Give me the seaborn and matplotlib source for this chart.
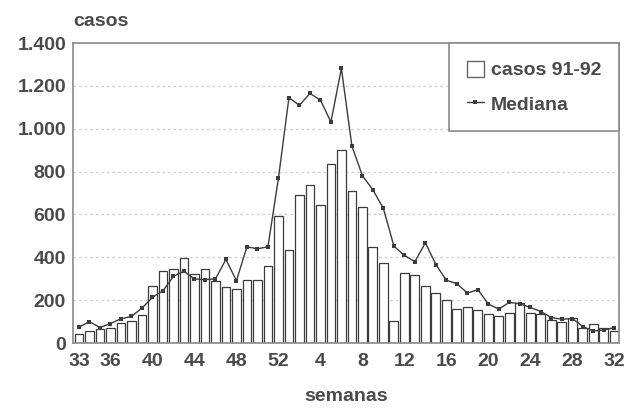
import matplotlib
matplotlib.use("Agg")
import matplotlib.pyplot as plt
from matplotlib.patches import Patch
from matplotlib.lines import Line2D
import seaborn as sns
import pandas as pd
import numpy as np

# semanas epidemiológicas 33 (1991) a 32 (1992)
semanas = list(range(33, 53)) + list(range(1, 33))
casos = [43, 56, 66, 70, 94, 105, 131, 264, 335, 344, 395, 320, 347,
         288, 262, 252, 293, 296, 358, 593, 432, 690, 737, 642, 836, 899,
         711, 636, 448, 374, 105, 325, 318, 265, 233, 202, 158, 168, 155,
         135, 127, 139, 186, 139, 136, 108, 100, 119, 69, 88, 69, 58]
mediana = [74, 100, 72, 91, 113, 124, 163, 213, 244, 311, 335, 299, 296,
           299, 390, 291, 449, 440, 449, 769, 1145, 1110, 1165, 1134, 1032,
           1282, 919, 781, 715, 628, 452, 409, 380, 468, 366, 293, 277, 233,
           249, 182, 158, 190, 183, 166, 147, 119, 111, 114, 77, 56, 61, 72]
semanas_eje = [33, 36, 40, 44, 48, 52, 4, 8, 12, 16, 20, 24, 28, 32]
y_ticks = [0, 200, 400, 600, 800, 1000, 1200, 1400]

df = pd.DataFrame({"semana": semanas, "casos": casos, "mediana": mediana})
df["pos"] = np.arange(len(df))

sns.set_style("white")
plt.rcParams["font.family"] = ["Liberation Sans", "DejaVu Sans"]
plt.rcParams["font.weight"] = "bold"

txt = "#4a4a4a"
edge = "#3c3c3c"

fig = plt.figure(figsize=(6.26, 4.08), dpi=100)
ax = fig.add_axes([0.1166, 0.1593, 0.872, 0.735])

for v in y_ticks[1:-1]:
    ax.axhline(v, color="#d2d2d2", lw=1, ls=(0, (2, 2)), zorder=0)

sns.barplot(data=df, x="pos", y="casos", color="white", saturation=1,
            edgecolor=edge, linewidth=0.9, width=0.84, ax=ax, zorder=2)
sns.lineplot(data=df, x="pos", y="mediana", color=edge, lw=1,
             marker="s", markersize=3.4, markeredgewidth=0, ax=ax, zorder=3)

ax.set_xlim(-0.57, len(df) - 0.57)
ax.set_ylim(0, 1400)
ax.set_yticks(y_ticks)
ax.set_yticklabels([f"{v:,}".replace(",", ".") for v in y_ticks])
ax.set_xticks([semanas.index(w) for w in semanas_eje])
ax.set_xticklabels([str(w) for w in semanas_eje])
ax.tick_params(axis="both", length=0, labelsize=14, labelcolor=txt)
ax.tick_params(axis="x", pad=7)
ax.tick_params(axis="y", pad=5)
for lab in ax.get_xticklabels() + ax.get_yticklabels():
    lab.set_fontweight("bold")

for s in ax.spines.values():
    s.set_color("#8a8a8a")
    s.set_linewidth(1.2)

ax.set_xlabel("semanas", fontsize=14, fontweight="bold", color=txt, labelpad=13)
ax.set_ylabel("")
ax.text(0.0, 1.045, "casos", transform=ax.transAxes, ha="left", va="bottom",
        fontsize=14, fontweight="bold", color=txt)

handles = [
    Patch(facecolor="white", edgecolor="#666666", linewidth=1),
    Line2D([0], [0], color=edge, lw=1, marker="s", markersize=3,
           markeredgewidth=0),
]
leg = ax.legend(handles, ["casos 91-92", "Mediana"], loc="upper right",
                borderaxespad=0, fancybox=False, framealpha=1,
                edgecolor="#8a8a8a", prop={"size": 14, "weight": "bold"},
                handlelength=0.9, handleheight=0.9, handletextpad=0.35,
                borderpad=0.9, labelspacing=0.8)
leg.get_frame().set_linewidth(1.2)
for t in leg.get_texts():
    t.set_color(txt)

fig.savefig("out.png", dpi=100)
